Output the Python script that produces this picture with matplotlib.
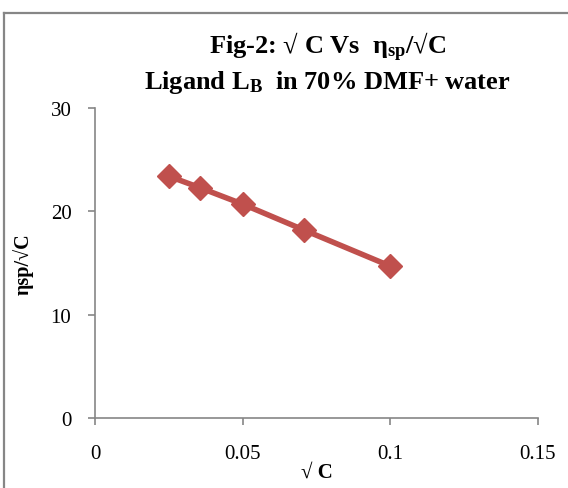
import matplotlib.pyplot as plt
from matplotlib.lines import Line2D

plt.rcParams['font.family'] = ['Liberation Serif', 'DejaVu Serif']
plt.rcParams['mathtext.fontset'] = 'custom'
plt.rcParams['mathtext.rm'] = 'Liberation Serif:bold'
plt.rcParams['mathtext.it'] = 'Liberation Serif:bold'
plt.rcParams['mathtext.bf'] = 'Liberation Serif:bold'

sqrt_c = [0.025, 0.0354, 0.05, 0.0707, 0.1]
eta_sp_sqrt_c = [23.4, 22.3, 20.7, 18.2, 14.7]
x_ticks = [0, 0.05, 0.1, 0.15]
x_labels = ["0", "0.05", "0.1", "0.15"]
y_ticks = [0, 10, 20, 30]

grey = "#868686"

fig = plt.figure(figsize=(5.68, 4.89), dpi=100)
# chart frame (only left and top edges visible in the crop)
fig.lines.append(Line2D([0.0075, 0.0075], [0, 0.9714], transform=fig.transFigure,
                        color=grey, lw=1.6))
fig.lines.append(Line2D([0.0075, 1.0], [0.9714, 0.9714], transform=fig.transFigure,
                        color=grey, lw=1.6))
ax = fig.add_axes([0.1673, 0.1431, 0.7797, 0.634])

ax.plot(sqrt_c, eta_sp_sqrt_c, color="#C0504D", lw=4, marker="D", ms=12,
        markeredgecolor="#C0504D")

ax.set_xlim(0, 0.15)
ax.set_ylim(0, 30)
ax.set_xticks(x_ticks)
ax.set_xticklabels(x_labels)
ax.set_yticks(y_ticks)
for s in ["top", "right"]:
    ax.spines[s].set_visible(False)
for s in ["left", "bottom"]:
    ax.spines[s].set_color(grey)
    ax.spines[s].set_linewidth(1.2)
ax.tick_params(direction="out", length=5, color=grey, width=1.2, labelsize=15)
ax.tick_params(axis="x", pad=14)
ax.tick_params(axis="y", pad=12)

ax.set_xlabel("√ C", fontsize=15, fontweight="bold", labelpad=-1)
ax.set_ylabel("ηsp/√C", fontsize=14.5, fontweight="bold", labelpad=12)

fig.text(0.576, 0.902, r"Fig-2: √ C Vs  $\eta_{sp}$/√C", ha="center", va="center",
         fontsize=19, fontweight="bold")
fig.text(0.576, 0.832, r"Ligand L$_{B}$  in 70% DMF+ water", ha="center", va="center",
         fontsize=19, fontweight="bold")

fig.savefig("out.png", dpi=100)
